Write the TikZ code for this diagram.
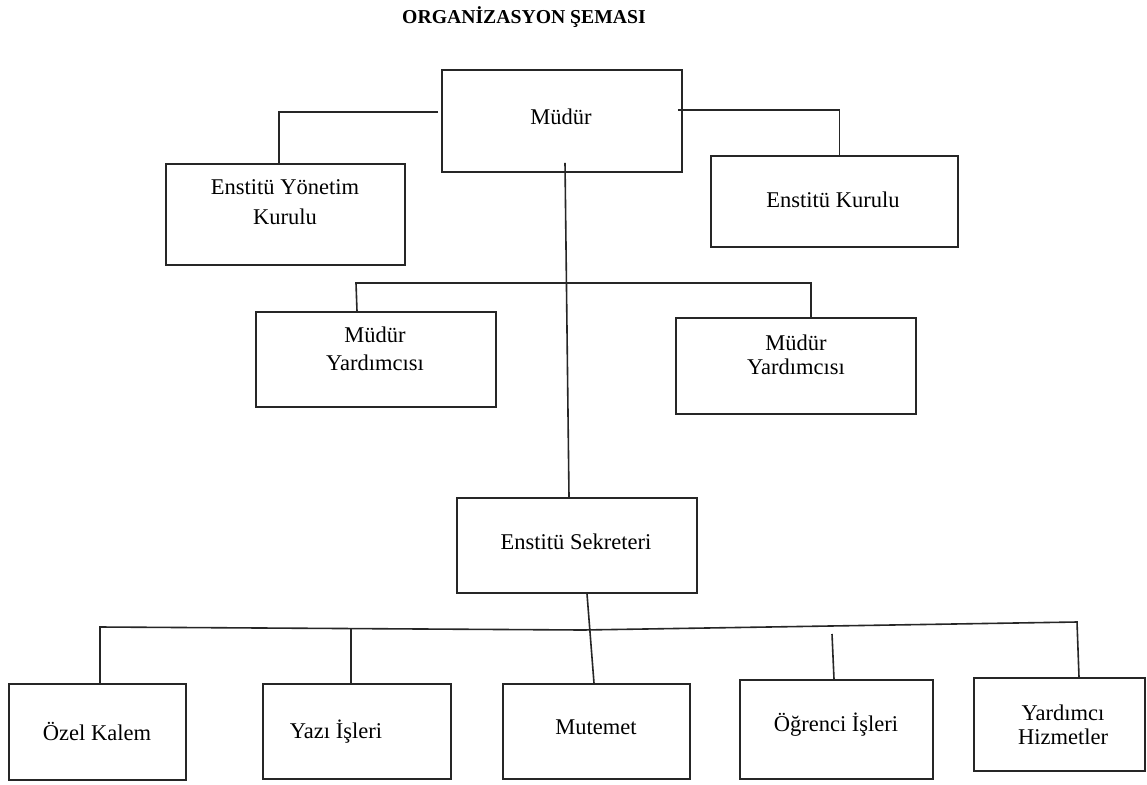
\documentclass[tikz,border=0pt]{standalone}
\usepackage{fontspec}
\setmainfont{Liberation Serif}
\begin{document}
\begin{tikzpicture}[x=1pt,y=-1pt,
  box/.style={draw=black!85,line width=1.7pt,rectangle,inner sep=0pt},
  lbl/.style={inner sep=0pt,text height=0.68em,text depth=0pt,yshift=-4pt,font=\fontsize{22.5}{26}\selectfont},
  conn/.style={draw=black!85,line width=1.6pt},
  ttl/.style={inner sep=0pt,font=\fontsize{19.7}{24}\selectfont\bfseries}]
\useasboundingbox (0,0) rectangle (1147,784);
\fill[white] (0,0) rectangle (1147,784);

\node[ttl] (title) at (524,17) {ORGANİZASYON ŞEMASI};

% boxes
\node[box,minimum width=240,minimum height=102] (mudur) at (562,121) {};
\node[box,minimum width=239,minimum height=101] (eyk) at (285.5,214.5) {};
\node[box,minimum width=247,minimum height=91] (ek) at (834.5,201.5) {};
\node[box,minimum width=240,minimum height=95] (my1) at (376,359.5) {};
\node[box,minimum width=240,minimum height=96] (my2) at (796,366) {};
\node[box,minimum width=240,minimum height=95] (es) at (577,545.5) {};
\node[box,minimum width=177,minimum height=96] (ok) at (97.5,732) {};
\node[box,minimum width=188,minimum height=95] (yi) at (357,731.5) {};
\node[box,minimum width=187,minimum height=95] (mt) at (596.5,731.5) {};
\node[box,minimum width=193,minimum height=99] (oi) at (836.5,729.5) {};
\node[box,minimum width=171,minimum height=93] (yh) at (1059.5,724.5) {};

% texts
\node[lbl] (tmudur) at (561,117) {Müdür};
\node[lbl] (teyk1) at (285,187) {Enstitü Yönetim};
\node[lbl] (teyk2) at (285,217) {Kurulu};
\node[lbl] (tek) at (833,200) {Enstitü Kurulu};
\node[lbl] (tmy1a) at (375,335) {Müdür};
\node[lbl] (tmy1b) at (375,363) {Yardımcısı};
\node[lbl] (tmy2a) at (796,343) {Müdür};
\node[lbl] (tmy2b) at (796,367) {Yardımcısı};
\node[lbl] (tes) at (576,542) {Enstitü Sekreteri};
\node[lbl] (tok) at (97,733) {Özel Kalem};
\node[lbl] (tyi) at (336,731) {Yazı İşleri};
\node[lbl] (tmt) at (596,727) {Mutemet};
\node[lbl] (toi) at (836,724) {Öğrenci İşleri};
\node[lbl] (tyh1) at (1063,713) {Yardımcı};
\node[lbl] (tyh2) at (1063,737) {Hizmetler};

% bus coordinates
\coordinate (myL) at (356,283);
\coordinate (myR) at (811,283);
\coordinate (bL) at (100,627);
\coordinate (bM) at (583,630);
\coordinate (bR) at (1077,622);
\coordinate (byi) at (351,628.5);
\coordinate (boi) at (832,634);

% connectors
\draw[conn] ([xshift=-3pt,yshift=9pt]mudur.west) -| ([xshift=-6.5pt]eyk.north);
\draw[conn] ([xshift=-5pt,yshift=11pt]mudur.east) -| ([xshift=5pt]ek.north);
\draw[conn] ([xshift=3pt,yshift=10pt]mudur.south) -- ([xshift=-8pt]es.north);
\draw[conn] ([xshift=-19pt]my1.north) -- (myL) -- (myR) -- ([xshift=15pt]my2.north);
\draw[conn] ([xshift=10pt]es.south) -- ([xshift=-2.5pt]mt.north);
\draw[conn] ([xshift=2.5pt]ok.north) -- (bL) -- (bM) -- (bR) -- ([xshift=19.5pt]yh.north);
\draw[conn] (byi) -- ([xshift=-6pt]yi.north);
\draw[conn] (boi) -- ([xshift=-2.5pt]oi.north);
\end{tikzpicture}
\end{document}
